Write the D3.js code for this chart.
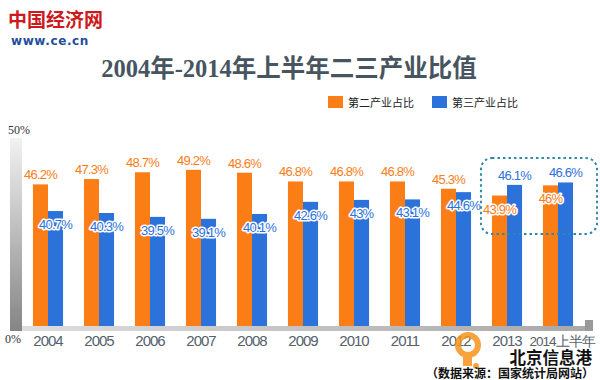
<!DOCTYPE html>
<html>
<head>
<meta charset="utf-8">
<script src="https://cdn.jsdelivr.net/npm/d3@7"></script>
<style>
    body { margin: 0; background: #fff; }
    svg { display: block; }
</style>
</head>
<body>
<svg width="600" height="380"></svg>
<script>
const years = ['2004', '2005', '2006', '2007', '2008', '2009', '2010', '2011', '2012', '2013', '2014上半年'];
const secondShare = [46.2, 47.3, 48.7, 49.2, 48.6, 46.8, 46.8, 46.8, 45.3, 43.9, 46];
const thirdShare = [40.7, 40.3, 39.5, 39.1, 40.1, 42.6, 43, 43.1, 44.6, 46.1, 46.6];
const seriesNames = ['第二产业占比', '第三产业占比'];
const axisLabels = ['0%', '50%'];
const highlightYears = ['2013', '2014上半年'];

const colors = ['#fa7d16', '#2b72db'];
const numFont = '"Liberation Sans", sans-serif';

const svg = d3.select('svg');
const defs = svg.append('defs');

// gradients for the decorative axes
const vGrad = defs.append('linearGradient')
    .attr('id', 'vgrad')
    .attr('x1', 0).attr('y1', 0).attr('x2', 0).attr('y2', 1);
vGrad.append('stop').attr('offset', '0%').attr('stop-color', '#f2f2f2');
vGrad.append('stop').attr('offset', '100%').attr('stop-color', '#858585');

const hGrad = defs.append('linearGradient')
    .attr('id', 'hgrad')
    .attr('x1', 0).attr('y1', 0).attr('x2', 1).attr('y2', 0);
hGrad.append('stop').attr('offset', '0%').attr('stop-color', '#dedede');
hGrad.append('stop').attr('offset', '100%').attr('stop-color', '#a8a8a8');

// logo
svg.append('text')
    .attr('x', 8).attr('y', 27)
    .style('font-family', '"Noto Sans CJK SC", sans-serif')
    .style('font-weight', 'bold')
    .style('font-size', '19px')
    .style('fill', '#cc1a20')
    .text('中国经济网');
svg.append('text')
    .attr('x', 11).attr('y', 45)
    .style('font-family', '"DejaVu Sans", sans-serif')
    .style('font-weight', 'bold')
    .style('font-size', '12px')
    .style('letter-spacing', '0.6px')
    .style('fill', '#1f4f9c')
    .text('www.ce.cn');

// title
svg.append('text')
    .attr('x', 289).attr('y', 77)
    .attr('text-anchor', 'middle')
    .style('font-family', '"Liberation Serif", "Noto Sans CJK SC", serif')
    .style('font-weight', 'bold')
    .style('font-size', '24.5px')
    .style('fill', '#46555f')
    .text('2004年-2014年上半年二三产业比值');

// scales
const xScale = d3.scaleBand()
    .domain(years)
    .range([22.5, 583.5])
    .paddingInner(0.41)
    .paddingOuter(0.205);

const xInner = d3.scaleBand()
    .domain([0, 1])
    .range([0, xScale.bandwidth()]);

const yScale = d3.scaleLinear()
    .domain([17, 57])
    .range([326, 132]);

// legend
const legend = svg.append('g').attr('transform', 'translate(328,96)');
seriesNames.forEach(function(name, i) {
    const g = legend.append('g').attr('transform', `translate(${i * 104},0)`);
    g.append('rect')
        .attr('width', 15).attr('height', 12)
        .style('fill', colors[i]);
    g.append('text')
        .attr('x', 20).attr('y', 10.5)
        .style('font-family', '"Noto Sans CJK SC", sans-serif')
        .style('font-size', '11px')
        .style('fill', '#222')
        .text(name);
});

// left axis bar
const yTop = yScale.range()[1];
const yBottom = yScale.range()[0];
svg.append('rect')
    .attr('x', 10).attr('y', yTop + 6)
    .attr('width', 12).attr('height', yBottom - yTop - 1)
    .style('fill', 'url(#vgrad)');

svg.selectAll('.ylabel')
    .data(axisLabels)
    .enter()
    .append('text')
    .attr('class', 'ylabel')
    .attr('x', function(d, i) { return i ? 8 : 5; })
    .attr('y', function(d, i) { return i ? yTop + 2 : yBottom + 17; })
    .style('font-family', '"Liberation Serif", serif')
    .style('font-size', '12px')
    .style('fill', '#333')
    .text(function(d) { return d; });

// bars
const groups = svg.append('g')
    .selectAll('g')
    .data(years)
    .enter()
    .append('g')
    .attr('transform', function(d) { return `translate(${xScale(d)},0)`; });

groups.selectAll('rect')
    .data(function(d, i) { return [secondShare[i], thirdShare[i]]; })
    .enter()
    .append('rect')
    .attr('x', function(d, j) { return xInner(j); })
    .attr('y', function(d) { return yScale(d); })
    .attr('width', xInner.bandwidth())
    .attr('height', function(d) { return yBottom - yScale(d); })
    .style('fill', function(d, j) { return colors[j]; });

// baseline
svg.append('rect')
    .attr('x', 22).attr('y', yBottom)
    .attr('width', 566).attr('height', 5)
    .style('fill', 'url(#hgrad)');
svg.append('rect')
    .attr('x', 585).attr('y', yBottom - 6)
    .attr('width', 8).attr('height', 11)
    .style('fill', '#9a9a9a');

// value labels: the taller bar gets its label above, the shorter one inside
groups.selectAll('text.val')
    .data(function(d, i) {
        const pair = [secondShare[i], thirdShare[i]];
        return pair.map(function(v, j) {
            return { v: v, j: j, above: v >= pair[1 - j] };
        });
    })
    .enter()
    .append('text')
    .attr('class', 'val')
    .attr('x', function(d) { return xInner(d.j) + xInner.bandwidth() / 2; })
    .attr('y', function(d) { return d.above ? yScale(d.v) - 5 : yScale(d.v) + 18; })
    .attr('text-anchor', 'middle')
    .style('font-family', numFont)
    .style('font-size', '13px')
    .style('letter-spacing', '-0.8px')
    .style('fill', function(d) { return colors[d.j]; })
    .style('stroke', '#fff')
    .style('stroke-width', function(d) { return d.above ? 0 : 3; })
    .style('stroke-linejoin', 'round')
    .style('paint-order', 'stroke')
    .text(function(d) { return d.v + '%'; });

// year labels
svg.selectAll('.xlabel')
    .data(years)
    .enter()
    .append('text')
    .attr('class', 'xlabel')
    .attr('x', function(d, i) {
        return xScale(d) + xScale.bandwidth() / 2 + (i === years.length - 1 ? 4 : 0);
    })
    .attr('y', yBottom + 20)
    .attr('text-anchor', 'middle')
    .style('font-family', '"Liberation Sans", sans-serif')
    .style('font-size', function(d) { return d.length > 4 ? '13.5px' : '15px'; })
    .style('letter-spacing', '-1px')
    .style('fill', '#55616b')
    .text(function(d) { return d; });

// dotted highlight box
const hx0 = xScale(highlightYears[0]) - 11;
const hx1 = xScale(highlightYears[1]) + xScale.bandwidth() + 24;
svg.append('rect')
    .attr('x', hx0).attr('y', 158)
    .attr('width', hx1 - hx0).attr('height', 76)
    .attr('rx', 11)
    .style('fill', 'none')
    .style('stroke', '#2b8aa6')
    .style('stroke-width', 2)
    .style('stroke-dasharray', '2.5,3');

// watermark and source
const mark = svg.append('g').style('opacity', 0.85);
mark.append('circle')
    .attr('cx', 468).attr('cy', 345).attr('r', 10)
    .style('fill', 'none')
    .style('stroke', '#f7941d')
    .style('stroke-width', 6);
mark.append('rect')
    .attr('x', 463).attr('y', 352).attr('width', 9).attr('height', 14)
    .style('fill', '#f7941d');
mark.append('circle')
    .attr('cx', 476).attr('cy', 366).attr('r', 3)
    .style('fill', '#f7941d');

svg.append('text')
    .attr('x', 592).attr('y', 364)
    .attr('text-anchor', 'end')
    .style('font-family', '"Noto Sans CJK SC", sans-serif')
    .style('font-weight', 'bold')
    .style('font-size', '16.5px')
    .style('fill', '#111')
    .text('北京信息港');

svg.append('text')
    .attr('x', 594).attr('y', 378)
    .attr('text-anchor', 'end')
    .style('font-family', '"Noto Sans CJK SC", sans-serif')
    .style('font-weight', 'bold')
    .style('font-size', '12px')
    .style('fill', '#111')
    .text('（数据来源：国家统计局网站）');
</script>
</body>
</html>
